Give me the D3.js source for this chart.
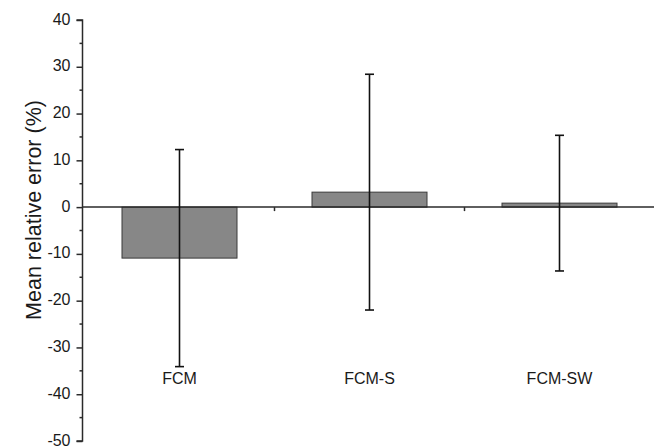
<!DOCTYPE html>
<html>
<head>
<meta charset="utf-8">
<script src="https://cdn.jsdelivr.net/npm/d3@7"></script>
<style>
  html, body { margin: 0; padding: 0; background: #fff; }
  svg { display: block; }
  text { font-family: "Liberation Sans", Arial, sans-serif; fill: #1a1a1a; }
</style>
</head>
<body>
<svg id="chart" width="654" height="447"></svg>
<script>
// Mean relative error of each clustering method, with standard deviation
const categories = ["FCM", "FCM-S", "FCM-SW"];
const meanError = [-10.9, 3.2, 0.85];
const stdDev = [23.2, 25.2, 14.5];
const yMajorTicks = [-50, -40, -30, -20, -10, 0, 10, 20, 30, 40];
const yMinorTicks = [-45, -35, -25, -15, -5, 5, 15, 25, 35];
const yTitle = "Mean relative error (%)";

const svg = d3.select("#chart");
const axisX = 82.5;

const x = d3.scaleBand().domain(categories).range([84.5, 654.5]).paddingInner(0).paddingOuter(0);
const y = d3.scaleLinear().domain([-50, 40]).range([441, 20]);
const barW = 115;

// bars
svg.append("g").selectAll("rect").data(categories).join("rect")
  .attr("x", d => x(d) + x.bandwidth() / 2 - barW / 2)
  .attr("width", barW)
  .attr("y", (d, i) => y(Math.max(0, meanError[i])))
  .attr("height", (d, i) => Math.abs(y(meanError[i]) - y(0)))
  .attr("fill", "#878787")
  .attr("stroke", "#3a3a3a")
  .attr("stroke-width", 1);

// zero line with category separators
const xAxis = svg.append("g").attr("transform", `translate(0,${y(0)})`);
xAxis.append("line").attr("x1", axisX).attr("x2", 654)
  .attr("stroke", "#2a2a2a").attr("stroke-width", 1.5);
xAxis.selectAll("line.sep").data(categories.slice(1)).join("line")
  .attr("class", "sep")
  .attr("x1", d => x(d)).attr("x2", d => x(d))
  .attr("y1", 0).attr("y2", 4)
  .attr("stroke", "#2a2a2a").attr("stroke-width", 1.5);

// error bars
const eb = svg.append("g").attr("stroke", "#111").attr("stroke-width", 1.6);
categories.forEach((c, i) => {
  const cx = x(c) + x.bandwidth() / 2;
  const top = y(meanError[i] + stdDev[i]);
  const bot = y(meanError[i] - stdDev[i]);
  eb.append("line").attr("x1", cx).attr("x2", cx).attr("y1", top).attr("y2", bot);
  eb.append("line").attr("x1", cx - 4.5).attr("x2", cx + 4.5).attr("y1", top).attr("y2", top);
  eb.append("line").attr("x1", cx - 4.5).attr("x2", cx + 4.5).attr("y1", bot).attr("y2", bot);
});

// y axis
const yAxis = d3.axisLeft(y).tickValues(yMajorTicks).tickSize(6).tickPadding(6).tickFormat(d => String(d));
const gy = svg.append("g").attr("transform", `translate(${axisX},0)`).call(yAxis);
gy.select(".domain").attr("stroke", "#2a2a2a").attr("stroke-width", 1.5).attr("d", `M-6,${y(40)}H0V${y(-50)}H-6`);
gy.selectAll(".tick line").attr("stroke", "#2a2a2a").attr("stroke-width", 1.5);
gy.selectAll(".tick text").attr("font-size", 16).attr("fill", "#1a1a1a").attr("dy", "0.25em")
  .style("font-family", "'Liberation Sans', Arial, sans-serif");
gy.selectAll("line.minor").data(yMinorTicks).join("line")
  .attr("class", "minor")
  .attr("x1", -3).attr("x2", 0)
  .attr("y1", d => y(d)).attr("y2", d => y(d))
  .attr("stroke", "#2a2a2a").attr("stroke-width", 1.5);

// category labels
svg.append("g").selectAll("text").data(categories).join("text")
  .attr("x", d => x(d) + x.bandwidth() / 2)
  .attr("y", 384)
  .attr("text-anchor", "middle")
  .attr("font-size", 16)
  .text(d => d);

// y title
svg.append("text")
  .attr("transform", `translate(41,210) rotate(-90)`)
  .attr("text-anchor", "middle")
  .attr("font-size", 21.5)
  .text(yTitle);
</script>
</body>
</html>
